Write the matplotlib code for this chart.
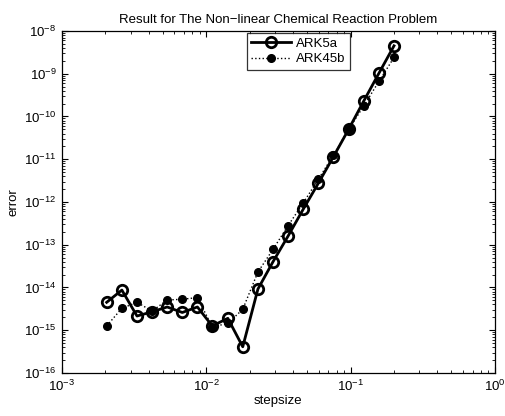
import matplotlib
matplotlib.use("Agg")
import matplotlib.pyplot as plt
from matplotlib.ticker import LogLocator, NullFormatter

plt.rcParams['font.family'] = ['Liberation Sans', 'DejaVu Sans']
plt.rcParams['mathtext.fontset'] = 'custom'
plt.rcParams['mathtext.rm'] = 'Liberation Sans'
plt.rcParams['mathtext.it'] = 'Liberation Sans:italic'
plt.rcParams['mathtext.bf'] = 'Liberation Sans:bold'

# step sizes (increasing)
stepsize = [0.00204, 0.0026, 0.00331, 0.00421, 0.00536, 0.00682, 0.00868,
            0.0110, 0.0141, 0.0179, 0.0228, 0.0290, 0.0369, 0.0470,
            0.0598, 0.0761, 0.0969, 0.1234, 0.157, 0.2]

err_ark5a = [4.5e-15, 8.7e-15, 2.15e-15, 2.7e-15, 3.5e-15, 2.6e-15, 3.5e-15,
             1.26e-15, 1.9e-15, 4.1e-16, 9.2e-15, 4.0e-14, 1.6e-13, 6.8e-13,
             2.75e-12, 1.15e-11, 5.0e-11, 2.3e-10, 1.02e-9, 4.5e-9]

err_ark45b = [1.26e-15, 3.26e-15, 4.5e-15, 2.8e-15, 5.1e-15, 5.3e-15, 5.8e-15,
              1.2e-15, 1.44e-15, 3.1e-15, 2.3e-14, 7.8e-14, 2.8e-13, 9.5e-13,
              3.4e-12, 1.25e-11, 5.0e-11, 1.76e-10, 6.6e-10, 2.4e-9]

labels = ['ARK5a', 'ARK45b']

FS = 9.5

fig = plt.figure(figsize=(5.06, 4.16), dpi=100)
ax = fig.add_axes([0.1225, 0.1034, 0.8555, 0.8221])

ax.loglog(stepsize, err_ark5a, '-o', color='black', linewidth=2,
          markersize=7.5, markerfacecolor='none', markeredgewidth=2,
          label=labels[0])
ax.loglog(stepsize, err_ark45b, ':.', color='black', linewidth=1,
          markersize=11, label=labels[1])

ax.set_xlim(1e-3, 1e0)
ax.set_ylim(1e-16, 1e-8)
ax.xaxis.set_major_locator(LogLocator(base=10, numticks=10))
ax.yaxis.set_major_locator(LogLocator(base=10, numticks=20))
ax.xaxis.set_minor_locator(LogLocator(base=10, subs=range(2, 10), numticks=20))
ax.yaxis.set_minor_locator(LogLocator(base=10, subs=range(2, 10), numticks=20))
ax.xaxis.set_minor_formatter(NullFormatter())
ax.yaxis.set_minor_formatter(NullFormatter())

ax.tick_params(which='both', direction='in', top=True, right=True, labelsize=FS)
ax.tick_params(which='major', length=4, width=0.8, pad=4)
ax.tick_params(which='minor', length=2, width=0.6)
for s in ax.spines.values():
    s.set_linewidth(0.9)

ax.set_xlabel('stepsize', fontsize=FS, labelpad=1)
ax.set_ylabel('error', fontsize=FS, labelpad=3)
ax.set_title('Result for The Non\u2212linear Chemical Reaction Problem', fontsize=FS, pad=6)

leg = ax.legend(loc='upper left', bbox_to_anchor=(0.427, 0.994), fontsize=FS,
                frameon=True, fancybox=False, edgecolor='black',
                handlelength=3, borderpad=0.35, labelspacing=0.25,
                handletextpad=0.4, borderaxespad=0)
leg.get_frame().set_linewidth(0.9)

fig.savefig('out.png', dpi=100)
